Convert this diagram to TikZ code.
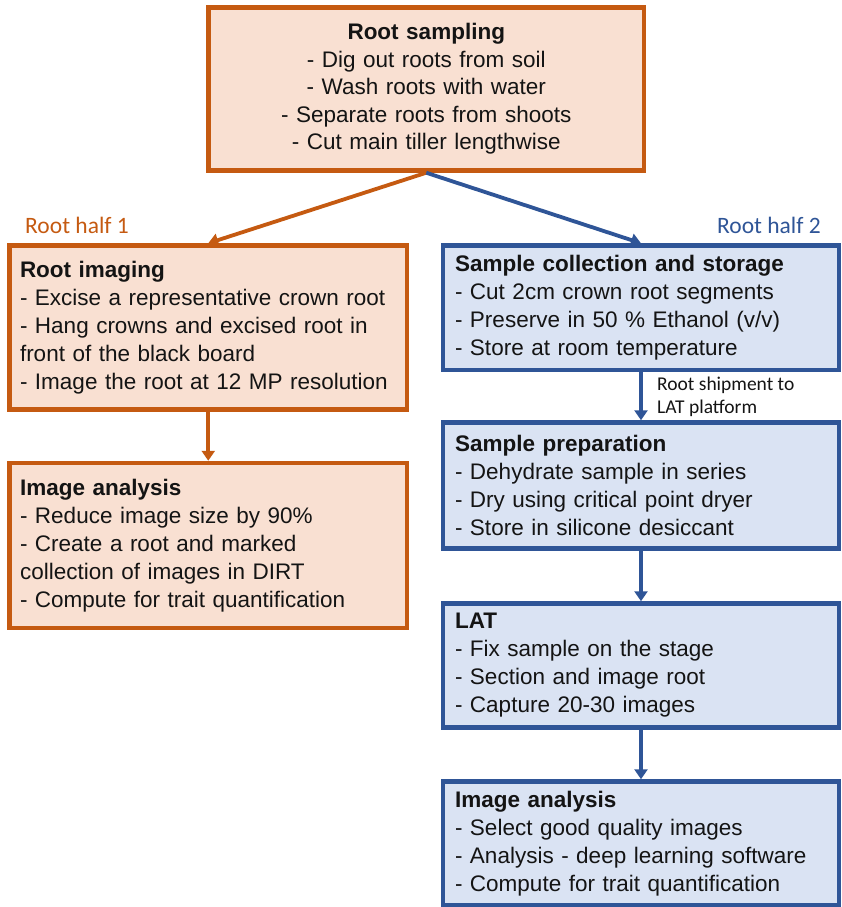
\documentclass[tikz,border=0pt]{standalone}
\usepackage{fontspec}
\setmainfont{Liberation Sans}
\newfontfamily\calib{Carlito}
\usetikzlibrary{arrows.meta}
\definecolor{ob}{HTML}{C55A11}
\definecolor{of}{HTML}{F9E0D2}
\definecolor{bb}{HTML}{2F5597}
\definecolor{bf}{HTML}{DAE3F3}
\definecolor{txt}{HTML}{141414}
\tikzset{
  basebox/.style={rectangle, line width=4.5pt, inner sep=0pt, text=txt,
    font=\fontsize{22.5}{28}\selectfont, align=left},
  obox/.style={basebox, draw=ob, fill=of},
  bbox/.style={basebox, draw=bb, fill=bf},
  oarrow/.style={draw=ob, line width=3.8pt, -{Triangle[length=10pt,width=13pt]}},
  barrow/.style={draw=bb, line width=3.8pt, -{Triangle[length=10pt,width=13pt]}},
  halflabel/.style={inner sep=0pt, font=\calib\fontsize{23.5}{28}\selectfont},
  shiplabel/.style={inner sep=0pt, align=left, text=txt, font=\calib\fontsize{19.5}{23.5}\selectfont}
}
\begin{document}
\begin{tikzpicture}[x=1pt,y=-1pt]
\useasboundingbox (0,0) rectangle (841,907);

\node[obox, minimum width=435.5pt, minimum height=163pt, text width=410pt, align=center,
  font=\fontsize{22.5}{27.5}\selectfont] (rs) at (426.25,89)
  {\textbf{Root sampling}\\- Dig out roots from soil\\- Wash roots with water\\- Separate roots from shoots\\- Cut main tiller lengthwise};

\node[obox, minimum width=397.5pt, minimum height=164pt, text width=376.5pt] (ri) at (208.25,327.5)
  {\textbf{Root imaging}\\- Excise a representative crown root\\- Hang crowns and excised root in\\front of the black board\\- Image the root at 12 MP resolution};

\node[obox, minimum width=397.5pt, minimum height=165pt, text width=376.5pt] (ia1) at (208.25,545.5)
  {\textbf{Image analysis}\\- Reduce image size by 90\%\\- Create a root and marked\\collection of images in DIRT\\- Compute for trait quantification};

\node[bbox, minimum width=396pt, minimum height=124.5pt, text width=372pt] (sc) at (641,307.75)
  {\textbf{Sample collection and storage}\\- Cut 2cm crown root segments\\- Preserve in 50 \% Ethanol (v/v)\\- Store at room temperature};

\node[bbox, minimum width=396pt, minimum height=126pt, text width=372pt] (sp) at (641,485.5)
  {\textbf{Sample preparation}\\- Dehydrate sample in series\\- Dry using critical point dryer\\- Store in silicone desiccant};

\node[bbox, minimum width=396pt, minimum height=124pt, text width=372pt] (lat) at (641,665.5)
  {\textbf{LAT}\\- Fix sample on the stage\\- Section and image root\\- Capture 20-30 images};

\node[bbox, minimum width=396pt, minimum height=123.5pt, text width=372pt] (ia2) at (641,843.25)
  {\textbf{Image analysis}\\- Select good quality images\\- Analysis - deep learning software\\- Compute for trait quantification};

\node[halflabel, text=ob, anchor=base west] (h1) at (25,233) {Root half 1};
\node[halflabel, text=bb, anchor=base east] (h2) at (821,233) {Root half 2};
\node[shiplabel, anchor=north west] (ship) at (657,376.5) {Root shipment to\\LAT platform};

\draw[oarrow] (rs.south) -- (ri.north);
\draw[barrow] (rs.south) -- (sc.north);
\draw[oarrow] (ri.south) -- (ia1.north);
\draw[barrow] (sc.south) -- (sp.north);
\draw[barrow] (sp.south) -- (lat.north);
\draw[barrow] (lat.south) -- (ia2.north);
\end{tikzpicture}
\end{document}
